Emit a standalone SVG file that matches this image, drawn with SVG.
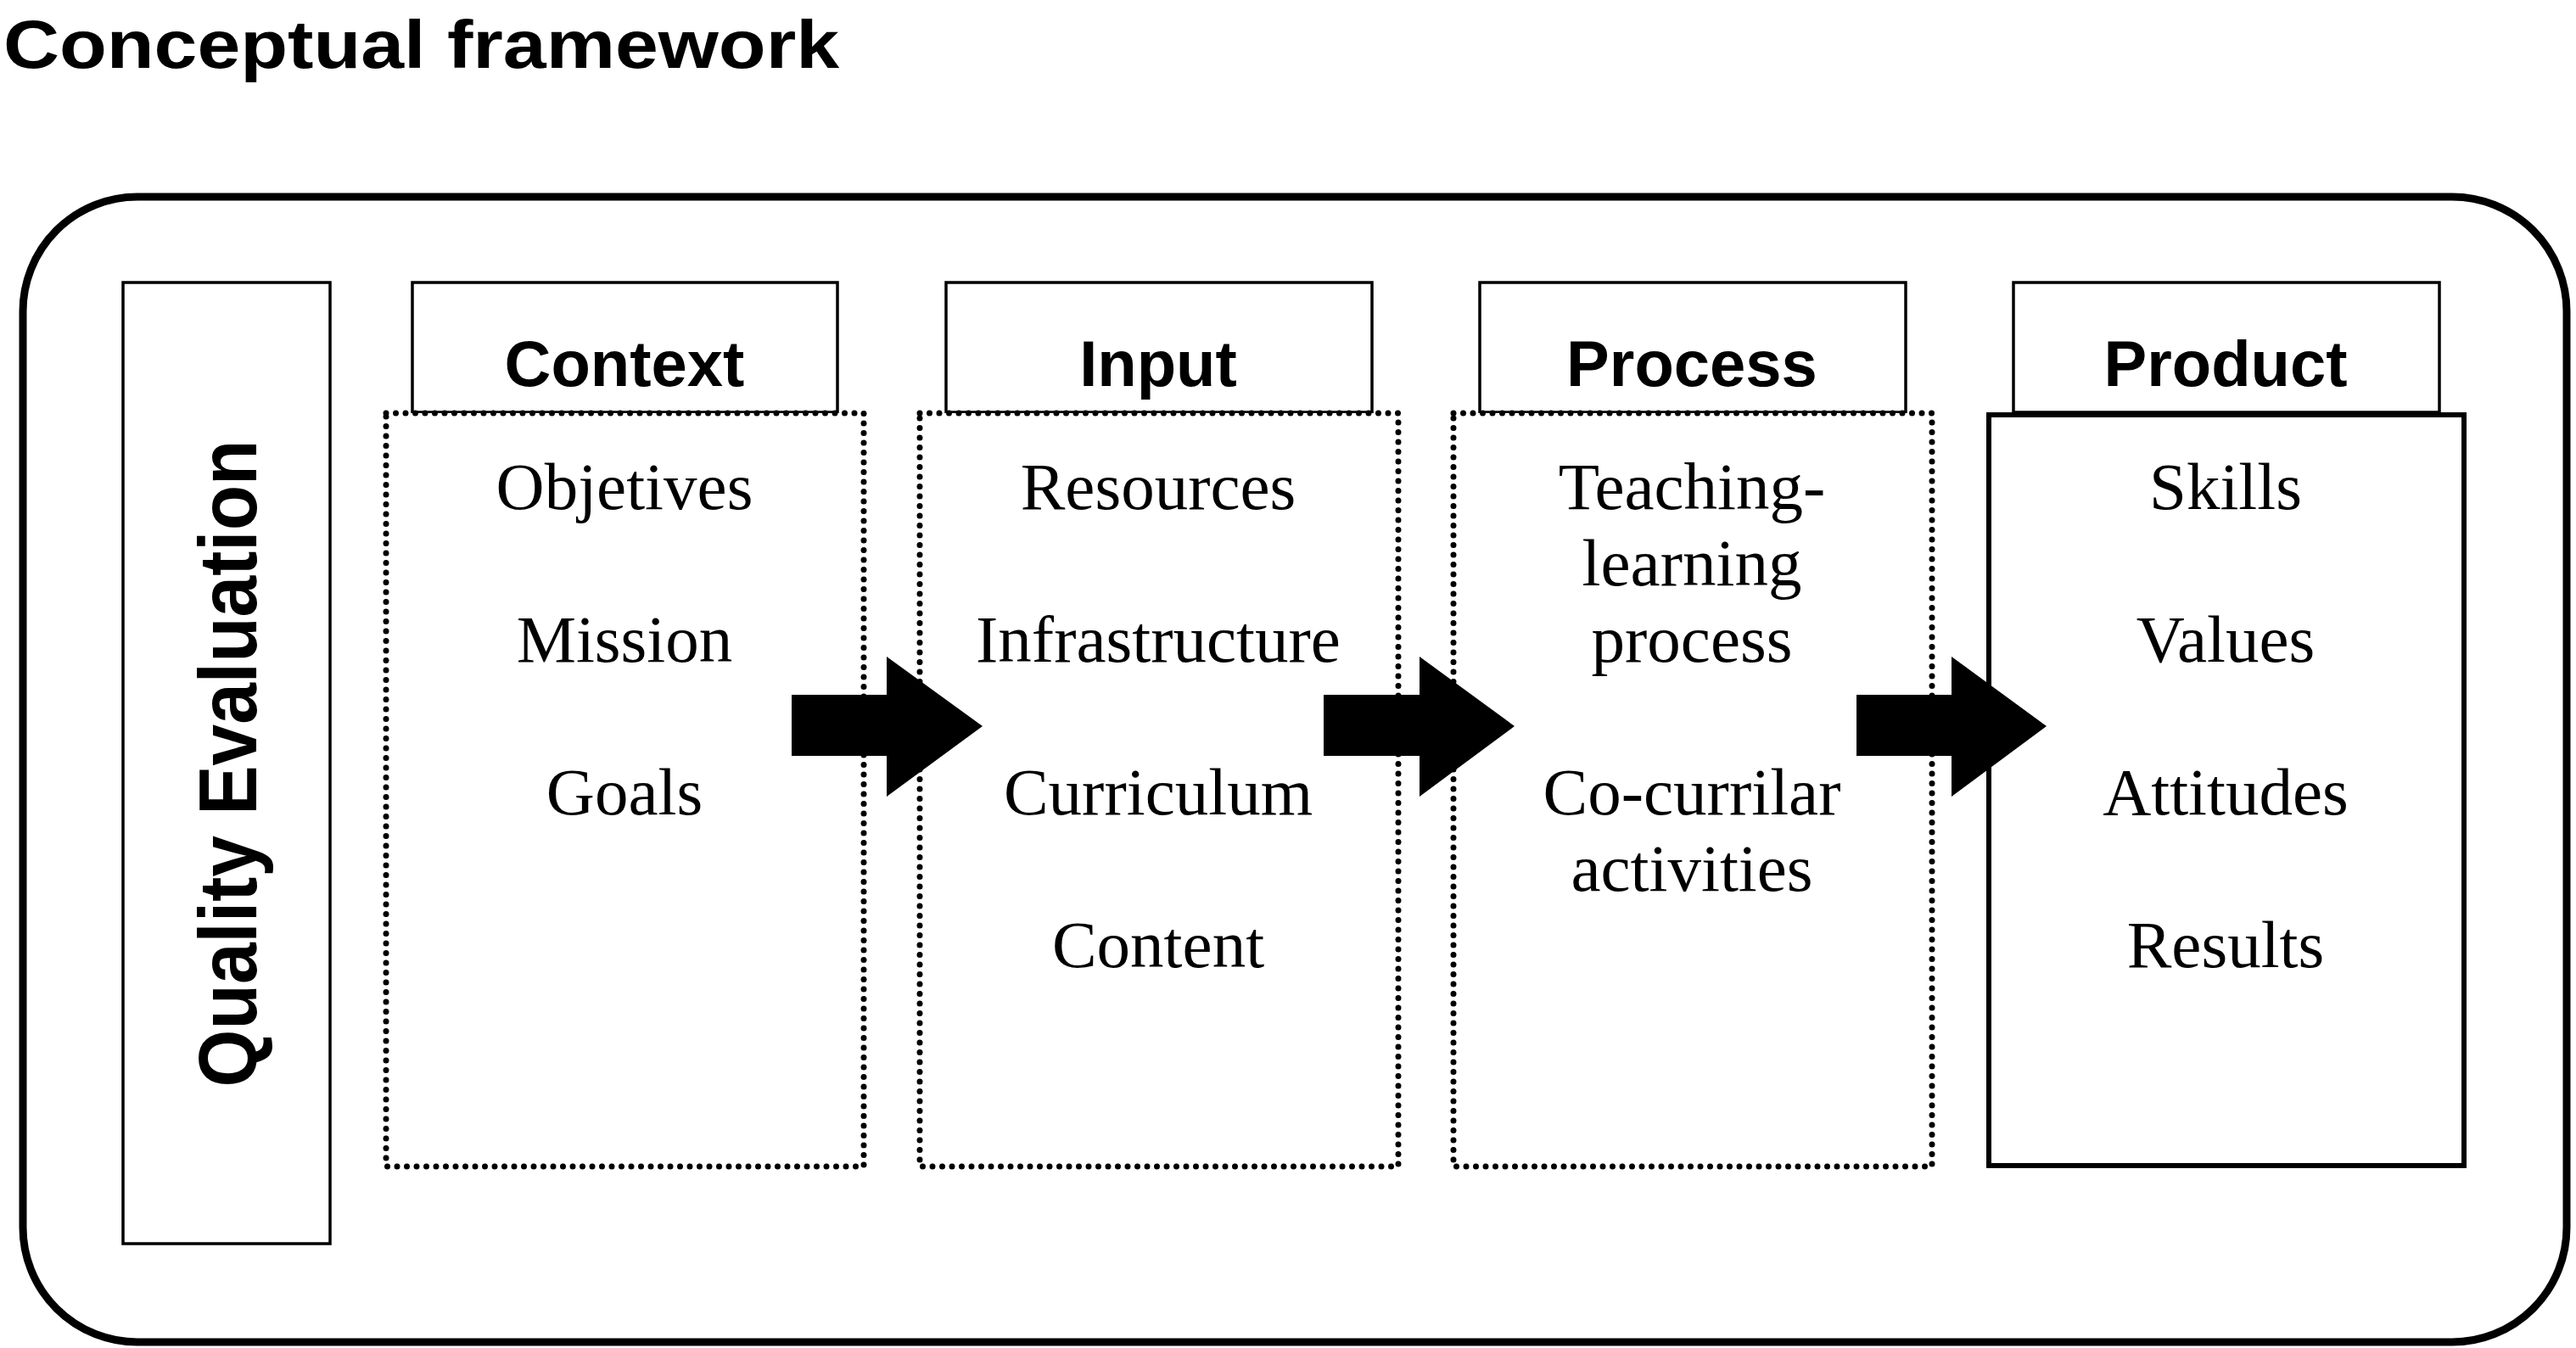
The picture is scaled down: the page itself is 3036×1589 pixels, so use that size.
<svg xmlns="http://www.w3.org/2000/svg" width="3036" height="1589" viewBox="0 0 3036 1589">
<style>
.tab{fill:#fff;stroke:#000;stroke-width:3.5}
.dot{fill:#fff;stroke:#000;stroke-width:7;stroke-dasharray:0 11.5;stroke-linecap:round}
.solid{fill:#fff;stroke:#000;stroke-width:6}
.hd{font-family:"Liberation Sans",Arial,sans-serif;font-weight:bold;font-size:76px;text-anchor:middle}
.bd{font-family:"Liberation Serif","Times New Roman",serif;font-size:79px;text-anchor:middle}
.arr{fill:#000}
</style>
<rect width="3036" height="1589" fill="#fff"/>
<text x="4" y="80" font-family="Liberation Sans,Arial,sans-serif" font-weight="bold" font-size="80" textLength="985" lengthAdjust="spacingAndGlyphs">Conceptual framework</text>
<rect id="frame" x="27" y="232" width="2998" height="1350" rx="135" fill="none" stroke="#000" stroke-width="9"/>
<g id="quality">
<rect x="145" y="333" width="244" height="1133" class="tab"/>
<text transform="translate(302,900) rotate(-90)" font-family="Liberation Sans,Arial,sans-serif" font-weight="bold" font-size="96" text-anchor="middle" textLength="763" lengthAdjust="spacingAndGlyphs">Quality Evaluation</text>
</g>
<g id="context">
<rect x="486" y="333" width="501" height="153" class="tab"/>
<rect x="455" y="487" width="563" height="888" class="dot"/>
<text x="736" y="455" class="hd">Context</text>
<text x="736" y="600" class="bd">Objetives</text>
<text x="736" y="780" class="bd">Mission</text>
<text x="736" y="960" class="bd">Goals</text>
</g>
<g id="input">
<rect x="1115" y="333" width="502" height="153" class="tab"/>
<rect x="1084" y="487" width="564" height="888" class="dot"/>
<text x="1365" y="455" class="hd">Input</text>
<text x="1365" y="600" class="bd">Resources</text>
<text x="1365" y="780" class="bd">Infrastructure</text>
<text x="1365" y="960" class="bd">Curriculum</text>
<text x="1365" y="1140" class="bd">Content</text>
</g>
<g id="process">
<rect x="1744" y="333" width="502" height="153" class="tab"/>
<rect x="1713" y="487" width="564" height="888" class="dot"/>
<text x="1994" y="455" class="hd">Process</text>
<text x="1994" y="600" class="bd">Teaching-</text>
<text x="1994" y="690" class="bd">learning</text>
<text x="1994" y="780" class="bd">process</text>
<text x="1994" y="960" class="bd">Co-currilar</text>
<text x="1994" y="1050" class="bd">activities</text>
</g>
<g id="product">
<rect x="2373" y="333" width="502" height="153" class="tab"/>
<rect x="2344" y="489" width="560" height="885" class="solid"/>
<text x="2623" y="455" class="hd">Product</text>
<text x="2623" y="600" class="bd">Skills</text>
<text x="2623" y="780" class="bd">Values</text>
<text x="2623" y="960" class="bd">Attitudes</text>
<text x="2623" y="1140" class="bd">Results</text>
</g>
<g id="connectors">
<polygon class="arr" points="933,819 1045,819 1045,774 1158,856 1045,939 1045,891 933,891"/>
<polygon class="arr" points="1560,819 1673,819 1673,774 1785,856 1673,939 1673,891 1560,891"/>
<polygon class="arr" points="2188,819 2300,819 2300,774 2412,856 2300,939 2300,891 2188,891"/>
</g>
</svg>
